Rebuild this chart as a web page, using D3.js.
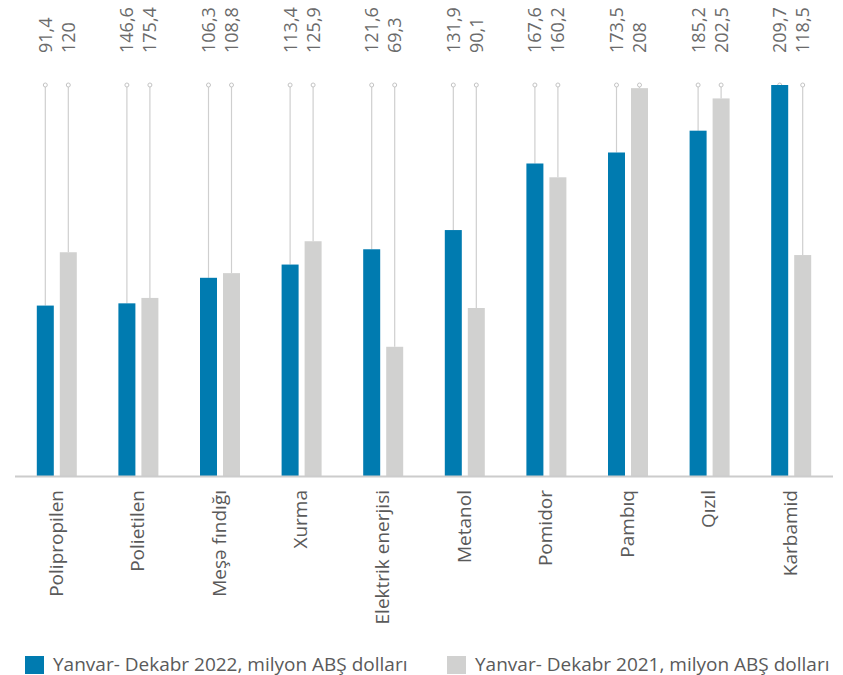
<!DOCTYPE html>
<html>
<head>
<meta charset="utf-8">
<script src="https://cdn.jsdelivr.net/npm/d3@7/dist/d3.min.js"></script>
<style>
  html, body { margin: 0; padding: 0; background: #fff; }
  svg { display: block; font-family: "Open Sans", sans-serif; }
</style>
</head>
<body>
<svg id="chart" width="843" height="675"></svg>
<script>
const categories = ["Polipropilen", "Polietilen", "Meşə fındığı", "Xurma", "Elektrik enerjisi", "Metanol", "Pomidor", "Pambıq", "Qızıl", "Karbamid"];
// bar heights as drawn in the picture
const values2022 = [91.4, 92.6, 106.3, 113.4, 121.6, 131.9, 167.6, 173.5, 185.2, 209.7];
const values2021 = [120, 95.5, 108.8, 125.9, 69.3, 90.1, 160.2, 208, 202.5, 118.5];
// value labels as printed
const labels2022 = ["91,4", "146,6", "106,3", "113,4", "121,6", "131,9", "167,6", "173,5", "185,2", "209,7"];
const labels2021 = ["120", "175,4", "108,8", "125,9", "69,3", "90,1", "160,2", "208", "202,5", "118,5"];
const seriesNames = ["Yanvar- Dekabr 2022, milyon ABŞ dolları", "Yanvar- Dekabr 2021, milyon ABŞ dolları"];
const seriesKeys = ["y2022", "y2021"];

const colors = { y2022: "#007bb0", y2021: "#d1d1d0" };

const data = categories.map((c, i) => ({
  cat: c,
  vals: [
    { key: "y2022", v: values2022[i], label: labels2022[i] },
    { key: "y2021", v: values2021[i], label: labels2021[i] }
  ]
}));

const svg = d3.select("#chart");
const baseY = 476;
const maxV = d3.max([...values2022, ...values2021]);
const y = d3.scaleLinear().domain([0, maxV]).range([baseY, 85]);
const x0 = d3.scaleBand().domain(categories).range([16, 832]);
const x1 = d3.scaleBand().domain(seriesKeys).range([x0.bandwidth() / 2 - 20, x0.bandwidth() / 2 + 20]).paddingInner(6 / 23);

const groups = svg.selectAll("g.grp").data(data).join("g")
  .attr("class", "grp")
  .attr("transform", d => `translate(${x0(d.cat)},0)`);

// pins
groups.selectAll("line.pin").data(d => d.vals).join("line")
  .attr("class", "pin")
  .attr("x1", d => x1(d.key) + x1.bandwidth() / 2)
  .attr("x2", d => x1(d.key) + x1.bandwidth() / 2)
  .attr("y1", y(maxV))
  .attr("y2", d => y(d.v))
  .attr("stroke", "#cfcfcf")
  .attr("stroke-width", 1.2);

groups.selectAll("circle.pin").data(d => d.vals).join("circle")
  .attr("class", "pin")
  .attr("cx", d => x1(d.key) + x1.bandwidth() / 2)
  .attr("cy", y(maxV))
  .attr("r", 2)
  .attr("fill", "#fff")
  .attr("stroke", "#c4c4c4")
  .attr("stroke-width", 1);

// bars
groups.selectAll("rect.bar").data(d => d.vals).join("rect")
  .attr("class", "bar")
  .attr("x", d => x1(d.key))
  .attr("width", x1.bandwidth())
  .attr("y", d => y(d.v))
  .attr("height", d => baseY - y(d.v))
  .attr("fill", d => colors[d.key]);

// value labels
groups.selectAll("text.val").data(d => d.vals).join("text")
  .attr("class", "val")
  .attr("transform", d => `translate(${x1(d.key) + x1.bandwidth() / 2},53) rotate(-90)`)
  .attr("dy", "0.36em")
  .attr("text-anchor", "start")
  .attr("font-size", 18)
  .attr("fill", "#6a6a6a")
  .text(d => d.label);

// axis line
svg.append("line")
  .attr("x1", 15).attr("x2", 833)
  .attr("y1", baseY + 0.5).attr("y2", baseY + 0.5)
  .attr("stroke", "#cccccc")
  .attr("stroke-width", 2);

// category labels
groups.append("text")
  .attr("transform", `translate(${x0.bandwidth() / 2 - 1},490) rotate(-90)`)
  .attr("dy", "0.36em")
  .attr("text-anchor", "end")
  .attr("font-size", 19)
  .attr("fill", "#5a5a5a")
  .text(d => d.cat);

// legend
const legendX = [25, 447];
const lg = svg.selectAll("g.leg").data(seriesKeys).join("g")
  .attr("class", "leg")
  .attr("transform", (d, i) => `translate(${legendX[i]},656)`);
lg.append("rect")
  .attr("width", 19).attr("height", 18)
  .attr("fill", d => colors[d]);
lg.append("text")
  .attr("x", 28)
  .attr("y", 14.5)
  .attr("font-size", 19)
  .attr("fill", "#5a5a5a")
  .text((d, i) => seriesNames[i]);
</script>
</body>
</html>
